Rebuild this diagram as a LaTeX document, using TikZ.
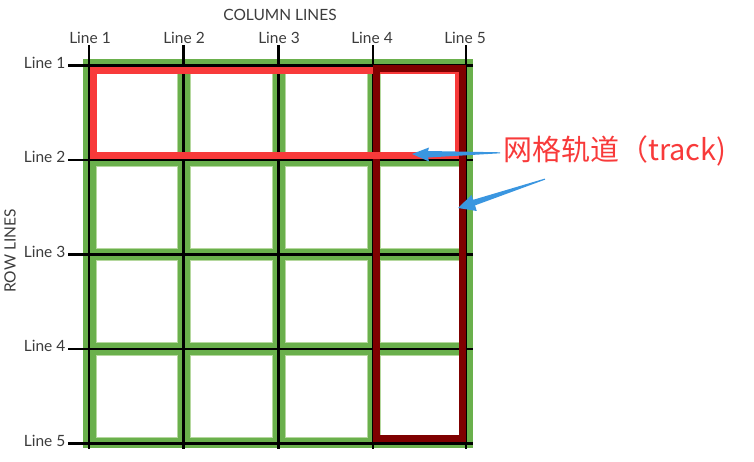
\documentclass[tikz,border=0pt]{standalone}
\usepackage{fontspec}
\setmainfont{Lato}
\newfontfamily\cjkfont{Noto Sans CJK SC}
\definecolor{gridgreen}{HTML}{6AB04C}
\definecolor{lightgreen}{HTML}{B5D89E}
\definecolor{trackred}{HTML}{F83A3A}
\definecolor{darkred}{HTML}{7F0000}
\definecolor{arrowblue}{HTML}{3A96E0}
\definecolor{labelgray}{HTML}{3C3C3C}
\tikzset{
  gridline/.style={black,line width=2.2pt},
  cellbox/.style={fill=white,draw=lightgreen,line width=0.9pt},
  lbl/.style={font=\fontsize{15.5}{17}\selectfont,text=labelgray,inner sep=0pt},
  rowtrack/.style={draw=trackred,line width=7pt},
  coltrack/.style={draw=darkred,line width=7pt},
  bluearrow/.style={fill=arrowblue,draw=none}
}
\begin{document}
\begin{tikzpicture}[x=1pt,y=-1pt]
\useasboundingbox (0,0) rectangle (754,462);
% green background of the grid
\fill[gridgreen] (83,59) rectangle (472.5,448);
% white cells
\foreach \xa/\xb in {89/183.5,183.5/278.5,278.5/373,373/466}{
  \foreach \ya/\yb in {65.5/160,160/254.5,254.5/349,349/443.5}{
    \path[cellbox] (\xa+7,\ya+6) rectangle (\xb-6,\yb-6.5);
  }
}
% black grid lines
\foreach \x in {89,183.5,278.5,373,466}{
  \draw[gridline] (\x,45) -- (\x,449);
}
\foreach \y in {65.5,160,254.5,349,443.5}{
  \draw[gridline] (68,\y) -- (472.5,\y);
}
% row track (red)
\draw[rowtrack] (93.5,71) rectangle (458.5,155.5);
% column track (dark red)
\draw[coltrack] (376.5,68.5) rectangle (462.5,438.5);
\draw[trackred,line width=7pt] (373,155.5) -- (458.5,155.5);
% column labels
\node[lbl,anchor=base] (ctitle) at (280,21) {COLUMN LINES};
\node[lbl,anchor=base] (c1) at (90,43.5) {Line 1};
\node[lbl,anchor=base] (c2) at (184,43.5) {Line 2};
\node[lbl,anchor=base] (c3) at (279,43.5) {Line 3};
\node[lbl,anchor=base] (c4) at (372,43.5) {Line 4};
\node[lbl,anchor=base] (c5) at (465,43.5) {Line 5};
% row labels
\node[lbl,anchor=mid east] (r1) at (65.5,65.5) {Line 1};
\node[lbl,anchor=mid east] (r2) at (65.5,160) {Line 2};
\node[lbl,anchor=mid east] (r3) at (65.5,254.5) {Line 3};
\node[lbl,anchor=mid east] (r4) at (65.5,349) {Line 4};
\node[lbl,anchor=mid east] (r5) at (65.5,443.5) {Line 5};
\node[lbl,rotate=90,anchor=mid] (rtitle) at (13,251) {ROW LINES};
% track label
\node[anchor=west,inner sep=0pt,text=trackred,font=\cjkfont\fontsize{29}{32}\selectfont] (track) at (503,151) {网格轨道（track)};
% blue arrows
\path[bluearrow] (412,154) -- (429,147.5) -- (428,151) -- (500,152.3) -- (500,153.3) -- (428,157.5) -- (429,161.5) -- cycle;
\path[bluearrow] (458,208) -- (471.5,195) -- (473.2,199.8) -- (544.8,178.6) -- (545.2,179.6) -- (475,205.4) -- (476.8,211) -- cycle;
\end{tikzpicture}
\end{document}
